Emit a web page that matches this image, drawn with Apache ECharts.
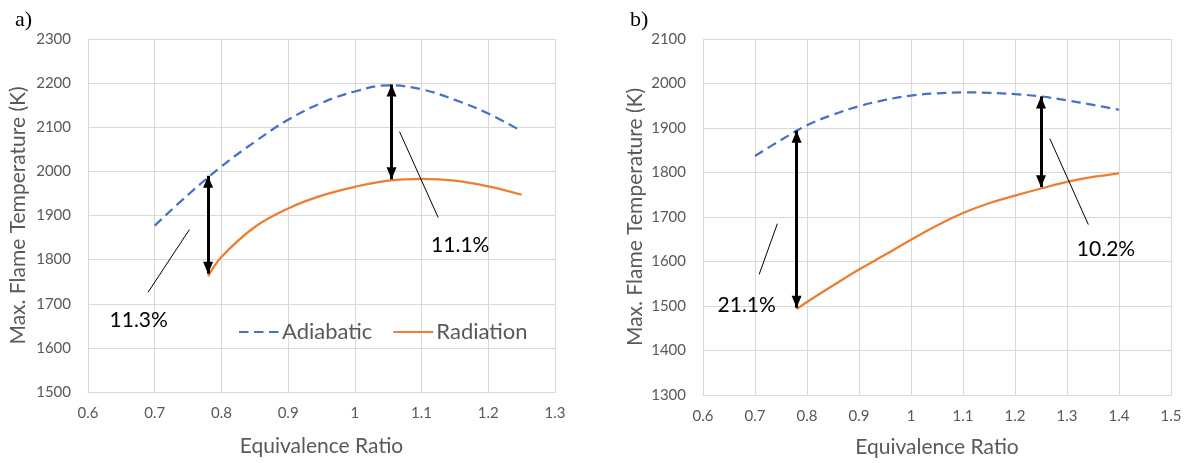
<!DOCTYPE html>
<html>
<head>
<meta charset="utf-8">
<title>Max. Flame Temperature vs Equivalence Ratio</title>
<script src="https://cdn.jsdelivr.net/npm/echarts@6/dist/echarts.min.js"></script>
<style>
  html, body { margin: 0; padding: 0; background: #fff; }
  #chart { width: 1190px; height: 463px; }
</style>
</head>
<body>
<div id="chart"></div>
<script>
// ---- Panel a) ----
const phiAdiabaticA = [0.70, 0.75, 0.80, 0.85, 0.90, 0.95, 1.00, 1.05, 1.10, 1.15, 1.20, 1.25];
const tempAdiabaticA = [1877, 1947, 2011, 2067, 2117, 2155, 2181, 2195, 2186, 2162, 2131, 2091];
const phiRadiationA = [0.78, 0.80, 0.85, 0.90, 0.95, 1.00, 1.05, 1.10, 1.15, 1.20, 1.25];
const tempRadiationA = [1762, 1806, 1874, 1916, 1945, 1965, 1979, 1983, 1979, 1966, 1947];

// ---- Panel b) ----
const phiAdiabaticB = [0.70, 0.75, 0.80, 0.85, 0.90, 0.95, 1.00, 1.05, 1.10, 1.15, 1.20, 1.25, 1.30, 1.35, 1.40];
const tempAdiabaticB = [1837, 1873, 1906, 1930, 1949, 1963, 1973, 1978, 1980, 1979, 1976, 1971, 1962, 1952, 1941];
const phiRadiationB = [0.78, 0.80, 0.85, 0.90, 0.95, 1.00, 1.05, 1.10, 1.15, 1.20, 1.25, 1.30, 1.35, 1.40];
const tempRadiationB = [1493, 1509, 1546, 1582, 1615, 1649, 1681, 1709, 1731, 1748, 1764, 1779, 1790, 1798];

// Temperature-drop arrows: [phi, adiabatic T, radiation T]
const dropArrowsA = [[0.78, 1990, 1768], [1.055, 2197, 1982]];
const dropArrowsB = [[0.78, 1894, 1496], [1.25, 1971, 1767]];

// Relative drop callouts: [text, phi, T] and leader lines [phi1, T1, phi2, T2]
const calloutsA = [['11.3%', 0.676, 1663], ['11.1%', 1.158, 1833]];
const leadersA = [[0.690, 1726, 0.752, 1868], [1.067, 2090, 1.125, 1895]];
const calloutsB = [['21.1%', 0.684, 1501], ['10.2%', 1.375, 1628]];
const leadersB = [[0.708, 1571, 0.743, 1685], [1.267, 1876, 1.341, 1683]];

const xTitle = 'Equivalence Ratio';
const yTitle = 'Max. Flame Temperature (K)';

const FONT = 'Lato, "Open Sans", sans-serif';
const GRID_COLOR = '#d9d9d9';
const LABEL_COLOR = '#595959';
const BLUE = '#4472c4';
const ORANGE = '#ed7d31';

const zip = (xs, ys) => xs.map((x, i) => [x, ys[i]]);

function xAxisFor(gridIndex, min, max, nameGap) {
  return {
    type: 'value', gridIndex, min, max, interval: 0.1,
    name: xTitle, nameLocation: 'middle', nameGap,
    nameTextStyle: { fontFamily: FONT, fontSize: 21, color: LABEL_COLOR },
    axisLine: { show: true, lineStyle: { color: GRID_COLOR, width: 1 } },
    axisTick: { show: false },
    axisLabel: { fontFamily: FONT, fontSize: 15, color: LABEL_COLOR, margin: 14 },
    splitLine: { show: true, lineStyle: { color: GRID_COLOR, width: 1 } }
  };
}

function yAxisFor(gridIndex, min, max, nameGap) {
  return {
    type: 'value', gridIndex, min, max, interval: 100,
    name: yTitle, nameLocation: 'middle', nameGap, nameRotate: 90,
    nameTextStyle: { fontFamily: FONT, fontSize: 21, color: LABEL_COLOR },
    axisLine: { show: false },
    axisTick: { show: false },
    axisLabel: { fontFamily: FONT, fontSize: 15, color: LABEL_COLOR, margin: 17,
                 formatter: v => String(v) },
    splitLine: { show: true, lineStyle: { color: GRID_COLOR, width: 1 } }
  };
}

function curveSeries(name, idx, xs, ys, color, dashed) {
  return {
    name, type: 'line', xAxisIndex: idx, yAxisIndex: idx,
    data: zip(xs, ys), smooth: 0.4, symbol: 'none', silent: true,
    itemStyle: { color },
    lineStyle: { color, width: 2.25, type: dashed ? [9.5, 5.5] : 'solid' },
    z: 3
  };
}

// Double-headed arrows; the heads are shifted back so their tips sit on the end points
function arrowSeries(idx, arrows) {
  return {
    type: 'line', xAxisIndex: idx, yAxisIndex: idx, data: [], silent: true,
    markLine: {
      silent: true, animation: false,
      symbol: ['triangle', 'triangle'], symbolSize: [10, 12],
      symbolOffset: [[0, 6], [0, 6]],
      itemStyle: { color: '#000' },
      lineStyle: { color: '#000', width: 3, type: 'solid' },
      label: { show: false },
      emphasis: { disabled: true },
      data: arrows.map(([x, hi, lo]) => [{ coord: [x, hi] }, { coord: [x, lo] }])
    },
    z: 5
  };
}

function calloutSeries(idx, callouts, leaders) {
  return {
    type: 'line', xAxisIndex: idx, yAxisIndex: idx, data: [], silent: true,
    markLine: {
      silent: true, animation: false, symbol: 'none',
      lineStyle: { color: '#000', width: 1, type: 'solid' },
      label: { show: false },
      emphasis: { disabled: true },
      data: leaders.map(([x1, y1, x2, y2]) => [{ coord: [x1, y1] }, { coord: [x2, y2] }])
    },
    markPoint: {
      silent: true, animation: false, symbol: 'circle', symbolSize: 1,
      itemStyle: { color: 'rgba(0,0,0,0)' },
      label: {
        show: true, position: 'inside', formatter: '{b}',
        fontFamily: FONT, fontSize: 21, color: '#000'
      },
      data: callouts.map(([t, x, y]) => ({ name: t, coord: [x, y] }))
    },
    z: 5
  };
}

const chart = echarts.init(document.getElementById('chart'), null, { renderer: 'canvas' });

chart.setOption({
  animation: false,
  backgroundColor: '#ffffff',
  title: [
    { text: 'a)', left: 10, top: 4,
      textStyle: { fontFamily: '"Liberation Serif", serif', fontSize: 22, fontWeight: 'normal', color: '#000' } },
    { text: 'b)', left: 625, top: 4,
      textStyle: { fontFamily: '"Liberation Serif", serif', fontSize: 22, fontWeight: 'normal', color: '#000' } }
  ],
  grid: [
    { left: 88, top: 39, width: 467, height: 353 },
    { left: 703, top: 39, width: 468, height: 358 }
  ],
  legend: {
    data: ['Adiabatic', 'Radiation'],
    left: 233, top: 316,
    itemWidth: 40, itemHeight: 14, itemGap: 20,
    itemStyle: { opacity: 0, borderWidth: 0 },
    textStyle: { fontFamily: FONT, fontSize: 22, color: LABEL_COLOR, padding: [0, 0, 0, -2] },
    selectedMode: false
  },
  xAxis: [xAxisFor(0, 0.6, 1.3, 44), xAxisFor(1, 0.6, 1.5, 42)],
  yAxis: [yAxisFor(0, 1500, 2300, 59), yAxisFor(1, 1300, 2100, 57)],
  series: [
    curveSeries('Adiabatic', 0, phiAdiabaticA, tempAdiabaticA, BLUE, true),
    curveSeries('Radiation', 0, phiRadiationA, tempRadiationA, ORANGE, false),
    curveSeries('Adiabatic', 1, phiAdiabaticB, tempAdiabaticB, BLUE, true),
    curveSeries('Radiation', 1, phiRadiationB, tempRadiationB, ORANGE, false),
    arrowSeries(0, dropArrowsA),
    arrowSeries(1, dropArrowsB),
    calloutSeries(0, calloutsA, leadersA),
    calloutSeries(1, calloutsB, leadersB)
  ]
});
</script>
</body>
</html>
